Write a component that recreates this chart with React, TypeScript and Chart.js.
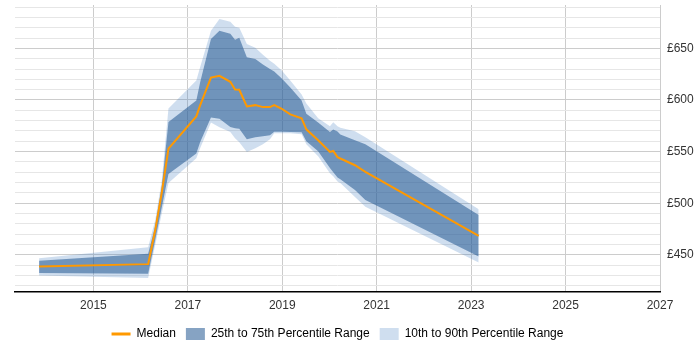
import React, { useEffect, useRef } from "react";
import { Chart, registerables } from "chart.js";

Chart.register(...registerables);

const years = [2013.85, 2016.16, 2016.31, 2016.45, 2016.59, 2017.18, 2017.26, 2017.49, 2017.67, 2017.9, 2018.0, 2018.09, 2018.25, 2018.43, 2018.59, 2018.74, 2018.83, 2018.99, 2019.17, 2019.41, 2019.51, 2019.76, 2020.01, 2020.08, 2020.17, 2020.23, 2020.54, 2020.76, 2023.16];
const p90 = [446.8, 457.4, 483.8, 522.4, 591.8, 618.8, 631.7, 667.1, 678.4, 675.8, 670.9, 670.0, 654.2, 650.7, 643.9, 638.1, 635.2, 628.5, 618.8, 605.3, 596.6, 582.2, 574.5, 578.5, 574.5, 573.0, 569.6, 563.9, 494.1];
const p75 = [444.2, 451.0, 478.0, 516.6, 578.6, 599.5, 616.9, 659.1, 667.1, 664.2, 658.4, 660.3, 641.3, 639.8, 634.3, 629.9, 627.5, 620.8, 612.1, 599.5, 586.7, 578.3, 569.0, 571.5, 569.5, 566.5, 561.0, 557.1, 488.6];
const median = [438.7, 441.0, 474.1, 510.8, 552.9, 584.1, 594.7, 621.7, 623.4, 617.6, 610.2, 609.9, 593.8, 595.0, 593.1, 593.1, 595.0, 591.5, 586.0, 582.2, 571.6, 561.0, 549.7, 550.6, 544.6, 543.3, 536.8, 530.4, 468.3];
const p25 = [432.3, 431.7, 464.5, 496.3, 528.2, 548.1, 559.0, 583.1, 581.9, 573.8, 572.5, 572.2, 561.9, 563.9, 564.8, 565.8, 569.3, 569.2, 569.0, 568.7, 560.0, 550.3, 534.0, 530.0, 525.0, 523.3, 512.7, 503.1, 448.4];
const p10 = [430.0, 427.5, 459.7, 490.5, 519.5, 543.6, 553.2, 578.3, 573.5, 569.0, 562.9, 559.0, 549.7, 553.2, 557.1, 561.9, 567.7, 567.7, 567.7, 566.7, 557.1, 545.5, 529.0, 526.0, 521.0, 519.5, 506.0, 496.6, 442.6];
const xTicks = [2015, 2017, 2019, 2021, 2023, 2025, 2027];
const yTicks = [420, 430, 440, 450, 460, 470, 480, 490, 500, 510, 520, 530, 540, 550, 560, 570, 580, 590, 600, 610, 620, 630, 640, 650, 660, 670, 680, 690];
const legendLabels = ["Median", "25th to 75th Percentile Range", "10th to 90th Percentile Range"];

const ORANGE = "#ff9900";
const DARK = "rgba(34,88,145,0.55)";
const LIGHT = "rgba(65,125,190,0.25)";

const pts = (vals: number[]) => vals.map((v, i) => ({ x: years[i], y: v }));

export default function App() {
  const ref = useRef<HTMLCanvasElement | null>(null);
  useEffect(() => {
    document.body.style.margin = "0";
    const ctx = ref.current!;
    const font = { family: "'Liberation Sans', Arial, sans-serif", size: 12 };
    const chart = new Chart(ctx, {
      type: "line",
      data: {
        datasets: [
          { label: legendLabels[0], data: pts(median), borderColor: ORANGE, borderWidth: 2, pointRadius: 0, fill: false, tension: 0 },
          { label: legendLabels[1], data: pts(p75), borderWidth: 0, borderColor: "transparent", backgroundColor: DARK, pointRadius: 0, fill: 2, tension: 0 },
          { label: "p25", data: pts(p25), borderWidth: 0, borderColor: "transparent", pointRadius: 0, fill: false, tension: 0 },
          { label: legendLabels[2], data: pts(p90), borderWidth: 0, borderColor: "transparent", backgroundColor: LIGHT, pointRadius: 0, fill: 4, tension: 0 },
          { label: "p10", data: pts(p10), borderWidth: 0, borderColor: "transparent", pointRadius: 0, fill: false, tension: 0 },
        ],
      },
      options: {
        animation: false,
        responsive: false,
        maintainAspectRatio: false,
        layout: { padding: { left: 15, top: 5, right: 0, bottom: 0 } },
        plugins: {
          tooltip: { enabled: false },
          legend: {
            position: "bottom",
            fullSize: false,
            labels: {
              usePointStyle: true,
              pointStyleWidth: 19,
              boxHeight: 12,
              padding: 10,
              color: "#333",
              font,
              generateLabels: () => [
                { text: legendLabels[0], pointStyle: "line", strokeStyle: ORANGE, fillStyle: ORANGE, lineWidth: 3, hidden: false, datasetIndex: 0 },
                { text: legendLabels[1], pointStyle: "rect", strokeStyle: "transparent", fillStyle: DARK, lineWidth: 0, hidden: false, datasetIndex: 1 },
                { text: legendLabels[2], pointStyle: "rect", strokeStyle: "transparent", fillStyle: LIGHT, lineWidth: 0, hidden: false, datasetIndex: 3 },
              ] as any,
            },
          },
        },
        scales: {
          x: {
            type: "linear",
            min: 2013.34,
            max: 2027,
            afterBuildTicks: (s: any) => {
              s.ticks = xTicks.map((v) => ({ value: v }));
            },
            afterFit: (s: any) => {
              s.height = 26;
              s.paddingLeft = 0;
              s.paddingRight = 0;
            },
            ticks: { color: "#333", font, padding: 6, maxRotation: 0, autoSkip: false, callback: (v: any) => String(v) },
            grid: { color: "#cccccc", drawTicks: false, lineWidth: 1 },
            border: { display: true, color: "#000", width: 1.5 },
          },
          y: {
            type: "linear",
            position: "right",
            min: 414,
            max: 692,
            afterBuildTicks: (s: any) => {
              s.ticks = yTicks.map((v) => ({ value: v }));
            },
            afterFit: (s: any) => {
              s.width = 40;
              s.paddingTop = 0;
              s.paddingBottom = 0;
            },
            ticks: {
              color: "#333",
              font,
              padding: 7,
              autoSkip: false,
              callback: (v: any) => (Number(v) % 50 === 0 ? "£" + v : ""),
            },
            grid: {
              drawTicks: false,
              color: (c: any) => (c.tick && c.tick.value % 50 === 0 ? "#cccccc" : "#e6e6e6"),
            },
            border: { display: false },
          },
        },
      },
    });
    return () => chart.destroy();
  }, []);
  return (
    <div style={{ width: 700, height: 350 }}>
      <canvas ref={ref} width={700} height={350} style={{ display: "block", width: 700, height: 350 }} />
    </div>
  );
}
